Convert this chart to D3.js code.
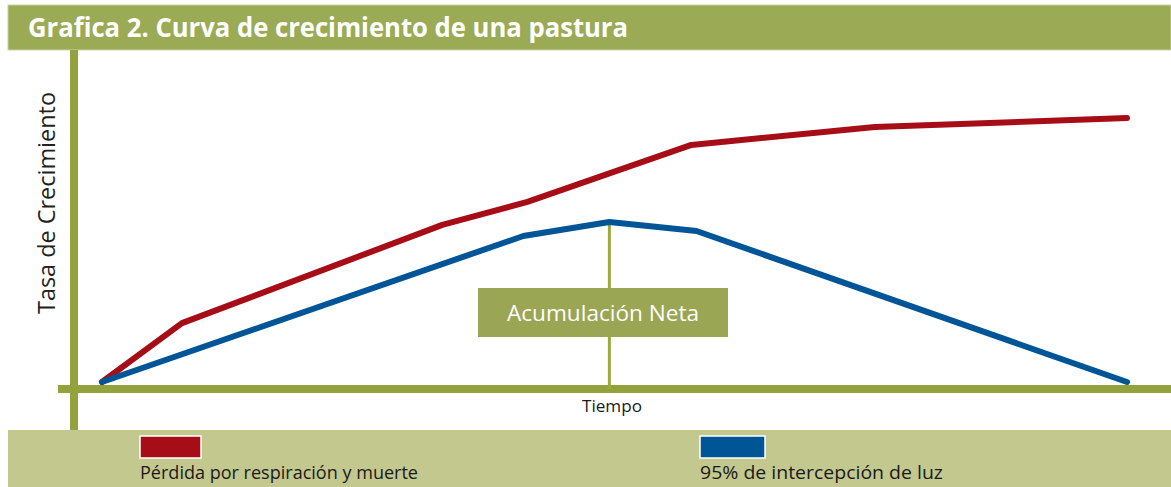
<!DOCTYPE html>
<html>
<head>
<meta charset="utf-8">
<script src="https://cdn.jsdelivr.net/npm/d3@7/dist/d3.min.js"></script>
<style>
  html, body { margin: 0; padding: 0; background: #fff; }
  svg { display: block; }
</style>
</head>
<body>
<svg id="chart" width="1171" height="487"></svg>
<script>
// ---- Data ----
const titleText = "Grafica 2. Curva de crecimiento de una pastura";
const yAxisLabel = "Tasa de Crecimiento";
const xAxisLabel = "Tiempo";
const annotationText = "Acumulación Neta";
const seriesNames = ["Pérdida por respiración y muerte", "95% de intercepción de luz"];
const seriesColors = ["#a60d17", "#005596"];

// Red: loss by respiration and death
const redTime  = [0, 7.8, 33.2, 41.5, 57.5, 75.4, 100];
const redRate  = [0, 22.3, 59.5, 68.2, 89.8, 96.6, 100];
// Blue: 95% light interception
const blueTime = [0, 41.1, 49.5, 58.0, 100];
const blueRate = [0, 55.3, 60.6, 57.2, 0];
// annotation position (time of max net accumulation)
const peakTime = 49.5;
const peakRate = 60.6;

// ---- Drawing ----
const svg = d3.select("#chart");
const W = 1171, H = 487;
const green = "#93a23c";
const barGreen = "#9bab55";

const x = d3.scaleLinear().domain([0, 100]).range([102, 1127]);
const y = d3.scaleLinear().domain([0, 100]).range([382, 118]);
const axisY = 389;   // pixel of horizontal axis
const axisX = 74;    // pixel of vertical axis

// title bar
svg.append("rect").attr("x", 8).attr("y", 5).attr("width", W - 8).attr("height", 45)
  .attr("fill", barGreen).attr("stroke", "#cdd3a6").attr("stroke-width", 1);
svg.append("text").attr("x", 28).attr("y", 37)
  .attr("fill", "#fff")
  .attr("font-family", "'Liberation Sans Narrow', 'Open Sans', sans-serif")
  .attr("font-weight", "bold").attr("font-size", 26)
  .attr("textLength", 600).attr("lengthAdjust", "spacingAndGlyphs")
  .text(titleText);

// legend band
svg.append("rect").attr("x", 8).attr("y", 430).attr("width", W - 8).attr("height", H - 430)
  .attr("fill", "#c3c88f");

// vertical axis line
svg.append("line").attr("x1", axisX).attr("x2", axisX).attr("y1", 50).attr("y2", 430)
  .attr("stroke", green).attr("stroke-width", 8);
// horizontal axis line
svg.append("line").attr("x1", 58).attr("x2", W).attr("y1", axisY).attr("y2", axisY)
  .attr("stroke", green).attr("stroke-width", 8);

// axis labels
svg.append("text")
  .attr("transform", `translate(55,${203}) rotate(-90)`)
  .attr("text-anchor", "middle")
  .attr("font-family", "'Open Sans', sans-serif")
  .attr("font-size", 23).attr("fill", "#231f20")
  .attr("textLength", 222).attr("lengthAdjust", "spacingAndGlyphs")
  .text(yAxisLabel);
svg.append("text").attr("x", 612).attr("y", 412)
  .attr("text-anchor", "middle")
  .attr("font-family", "'Open Sans', sans-serif")
  .attr("font-size", 16).attr("fill", "#1a1a1a")
  .attr("textLength", 60).attr("lengthAdjust", "spacingAndGlyphs")
  .text(xAxisLabel);

// annotation vertical line
svg.append("line").attr("x1", x(peakTime)).attr("x2", x(peakTime))
  .attr("y1", y(peakRate)).attr("y2", axisY)
  .attr("stroke", "#9aab3c").attr("stroke-width", 3);
// annotation box
const boxW = 250, boxH = 49;
const boxCx = 603;
svg.append("rect").attr("x", boxCx - boxW / 2).attr("y", 288).attr("width", boxW).attr("height", boxH)
  .attr("fill", "#9ba654");
svg.append("text").attr("x", boxCx).attr("y", 321)
  .attr("text-anchor", "middle")
  .attr("font-family", "'Open Sans', sans-serif")
  .attr("font-size", 21).attr("fill", "#fff")
  .attr("textLength", 192).attr("lengthAdjust", "spacingAndGlyphs")
  .text(annotationText);

// lines
const line = d3.line().x(d => x(d[0])).y(d => y(d[1]));
const redData = redTime.map((t, i) => [t, redRate[i]]);
const blueData = blueTime.map((t, i) => [t, blueRate[i]]);

svg.append("path").datum(redData).attr("d", line)
  .attr("fill", "none").attr("stroke", seriesColors[0]).attr("stroke-width", 6)
  .attr("stroke-linejoin", "round").attr("stroke-linecap", "round");
svg.append("path").datum(blueData).attr("d", line)
  .attr("fill", "none").attr("stroke", seriesColors[1]).attr("stroke-width", 6)
  .attr("stroke-linejoin", "round").attr("stroke-linecap", "round");

// legend
const legendX = [140, 700];
const swW = [61, 65];
const legendLen = [278, 243];
seriesNames.forEach((name, i) => {
  svg.append("rect").attr("x", legendX[i]).attr("y", 436).attr("width", swW[i]).attr("height", 22)
    .attr("fill", seriesColors[i]).attr("stroke", "#fff").attr("stroke-width", 1.5);
  svg.append("text").attr("x", legendX[i]).attr("y", 479)
    .attr("font-family", "'Open Sans', sans-serif")
    .attr("font-size", 19).attr("fill", "#1a1a1a")
    .attr("textLength", legendLen[i]).attr("lengthAdjust", "spacingAndGlyphs")
    .text(name);
});
</script>
</body>
</html>
